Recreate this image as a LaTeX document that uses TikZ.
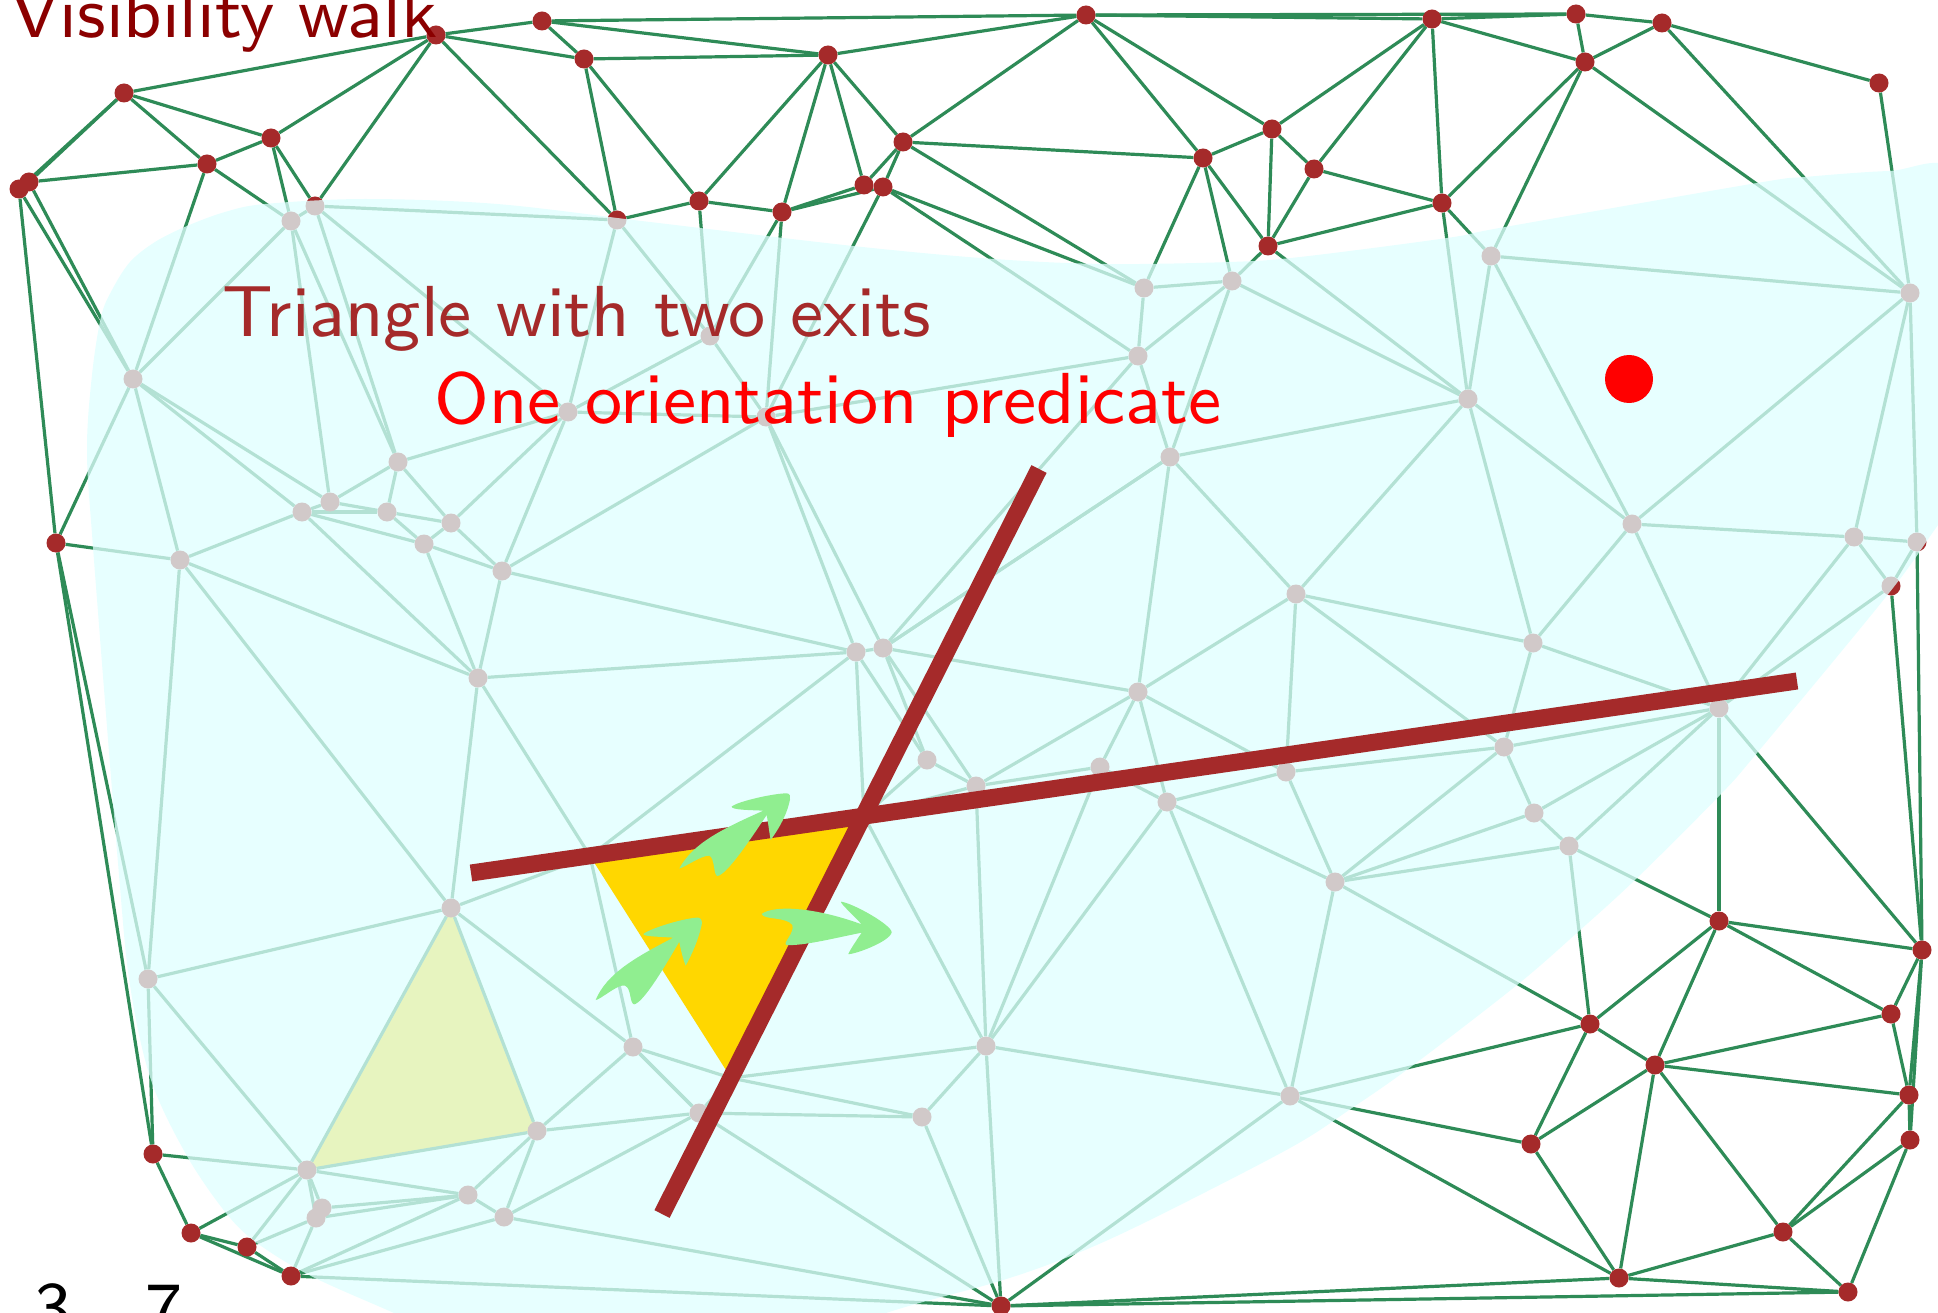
\documentclass[tikz,border=0pt]{standalone}
\usepackage{fontspec}
\pgfdeclarelayer{bg}
\pgfsetlayers{bg,main}
\definecolor{meshgreen}{HTML}{2E8B57}
\definecolor{vertexbrown}{HTML}{A52A2A}
\definecolor{veilcyan}{HTML}{E0FFFF}
\definecolor{triangold}{HTML}{FFD700}
\definecolor{arrowgreen}{HTML}{90EE90}
\definecolor{titlered}{HTML}{8B0000}
\newcommand{\bigtxt}[1]{\scalebox{8.03}{\fontsize{9}{11}\selectfont\sffamily #1}}
\tikzset{
  vertexdot/.style={circle,fill=vertexbrown,draw=none,inner sep=0pt,minimum size=19pt},
  meshedge/.style={draw=meshgreen,line width=3.2pt},
  walkline/.style={draw=vertexbrown,line width=17pt},
  cyanveil/.style={fill=veilcyan,fill opacity=0.75},
  bigtext/.style={anchor=base west,inner sep=0pt},
  fancyarrow/.style={fill=arrowgreen,draw=none}
}
\begin{document}
\begin{tikzpicture}[x=1pt,y=-1pt]
\clip (0,0) rectangle (1938,1313);
% vertices
\foreach \n/\x/\y in {
a1/436/35,a2/542/21,a3/584/59,a4/124/93,a5/271/138,a6/207/164,a7/29/182,a8/19/189,a9/828/55,a10/1086/15,
a11/903/142,a12/864/185,a13/883/187,a14/699/201,a15/782/212,a16/1203/158,a17/1272/129,a18/1268/246,
a19/1432/19,a20/1576/14,a21/1662/23,a22/1585/62,a23/1879/83,a24/1314/169,a25/1442/203,
b1/315/206,b2/291/221,b3/617/220,b4/133/379,b5/568/412,b6/1144/288,b7/1232/281,b8/1138/356,b9/710/336,b10/766/417,
b11/1170/457,b12/1491/256,b13/1910/293,b14/1468/399,b15/56/543,b16/180/560,b17/302/512,b18/330/502,b19/387/512,b20/398/462,
b21/451/523,b22/424/544,b23/502/571,b24/478/678,b25/856/652,b26/883/648,b27/1138/692,b28/927/760,b29/976/786,b30/1100/767,
b31/1167/802,b32/1286/772,b33/1296/594,b34/1632/524,b35/1854/537,b36/1917/542,b37/1891/586,b38/1533/643,b39/1719/708,b40/1504/747,
b41/1534/813,b42/1569/846,b43/1335/882,b44/148/979,b45/451/908,b46/307/1170,b47/537/1131,b48/633/1047,b49/468/1195,b50/504/1217,
b51/322/1208,b52/316/1218,b53/699/1113,b54/986/1046,b55/922/1117,b56/1290/1096,
c1/153/1154,c2/191/1233,c3/247/1247,c4/291/1276,c5/1001/1306,c6/1719/921,c7/1922/950,c8/1590/1024,c9/1891/1014,c10/1655/1065,
c11/1909/1095,c12/1531/1144,c13/1910/1140,c14/1783/1232,c15/1619/1278,c16/1848/1292}
  {\node[vertexdot] (\n) at (\x,\y) {};}
\coordinate (h1) at (590,856);
\coordinate (h2) at (864,816);
\coordinate (h3) at (731,1078);
% mesh below the veil
\begin{pgfonlayer}{bg}
\fill[white] (0,0) rectangle (1938,1313);
\fill[triangold] (b45.center) -- (b46.center) -- (b47.center) -- cycle;
\foreach \p/\q in {
a4/a1,a4/a7,a4/a8,a4/a6,a4/a5,a7/a6,a7/a8,a5/a6,a5/a1,a1/a2,a1/a3,a2/a3,a1/b1,a1/b3,a5/b1,a5/b2,a6/b2,a6/b4,b1/b2,b1/b3,b2/b4,a7/b4,a8/b4,a8/b15,
a3/b3,a3/a9,a3/a14,a2/a9,a2/a10,a9/a10,a9/a14,a9/a15,a9/a12,a9/a11,a10/a11,a10/a16,a10/a17,a11/a16,a11/a12,a11/a13,a11/b6,a13/b6,a13/b8,a12/a15,a13/a15,a14/a15,b3/a14,
a14/b9,a15/b9,a15/b10,a13/b10,a16/b6,a16/b7,a16/a18,a16/a17,a17/a18,a17/a24,a18/a24,a18/a25,a17/a19,a24/a19,a24/a25,a19/a25,a19/a22,a19/a20,a10/a19,a10/a20,a20/a21,a20/a22,a21/a22,a21/a23,
a22/a25,a22/b12,a22/b13,a21/b13,a23/b13,a25/b12,a25/b14,b12/b14,b12/b13,b12/b34,a18/b7,a18/b14,b7/b6,b7/b8,b7/b14,b7/b11,b6/b8,b8/b10,b8/b11,b8/b26,b11/b26,b11/b14,b11/b27,b11/b33,
b14/b33,b14/b38,b14/b34,b13/b34,b13/b35,b13/b36,b35/b36,b34/b35,b35/b37,b36/b37,b37/b39,b35/b39,b34/b39,b34/b38,b38/b33,b38/b39,b38/b40,b33/b40,b33/b32,b33/b27,b40/b39,b40/b32,
b39/b41,b39/b42,b39/c6,b39/c7,b40/b43,b40/b41,b41/b42,b41/b43,b42/b43,b42/c8,b42/c6,b32/b43,b43/b56,b43/c8,b31/b43,b31/b32,b31/b27,b31/b30,b30/b27,b30/b29,b29/b27,b29/b28,b29/b26,b28/b26,b28/b25,
b25/b26,b25/h1,b25/h2,b28/h2,b29/h2,h2/b54,b24/h1,b45/h1,h1/b48,b48/h3,h3/b54,h3/b55,h3/b53,
b47/b53,b50/b53,b48/b53,b53/b55,b53/c5,b55/b54,b55/c5,b54/b56,b54/c5,b56/c5,b54/b29,b54/b30,b54/b31,b56/b31,b56/c8,b56/c12,b56/c15,
c6/c7,c6/c8,c6/c10,c6/c9,c7/c9,c7/c11,c7/c13,c8/c10,c8/c12,c10/c9,c10/c11,c10/c12,c10/c15,c10/c14,c9/c11,c11/c14,c11/c13,c13/c14,c13/c16,c14/c15,c14/c16,c12/c15,c15/c16,c15/c5,c16/c5,b36/c7,b37/c7,
b15/c1,b15/b44,b44/c1,b44/b46,b44/b16,b44/b45,b46/c1,b46/c2,b46/c3,b46/b51,b46/b52,b46/b47,b46/b45,b46/b49,b47/b45,b47/b48,b47/b49,b47/b50,b45/b48,b45/b24,b16/b45,
b49/b51,b49/b52,b49/b50,b49/c4,b50/c4,b50/c5,b52/c3,b52/c4,c1/c2,c2/c3,c2/c4,c3/c4,c4/c5,b51/b52,
b4/b15,b4/b16,b4/b17,b4/b18,b2/b18,b2/b20,b1/b20,b1/b5,b3/b5,b3/b9,b9/b10,b9/b5,b5/b10,b5/b20,b5/b21,b5/b23,b20/b18,b20/b19,b20/b21,b18/b17,b18/b19,b17/b19,b17/b16,b17/b22,b17/b24,b19/b21,b19/b22,b21/b22,b21/b23,b22/b23,b22/b24,b23/b24,b23/b25,b23/b10,b24/b25,b16/b24,b16/b15,
b10/b25,b10/b26,b26/b27,b26/b11,b27/b32,b53/b48}
  {\draw[meshedge] (\p) -- (\q);}
\end{pgfonlayer}
% veil
\path[cyanveil] plot[smooth cycle,tension=.55] coordinates {
(87,450)(92,375)(101,317)(112,290)(130,262)(155,242)(187,226)(225,212)(265,204)(365,199)(497,204)(650,222)(853,246)(994,259)(1106,264)(1230,262)
(1300,257)(1447,238)(1505,227)(1757,183)(1805,177)(1889,171)(1960,172)(2030,300)(2000,440)(1938,525)(1889,593)(1757,753)(1720,795)(1637,878)
(1579,931)(1517,985)(1412,1066)(1352,1108)(1290,1148)(1150,1220)(1073,1255)(1000,1281)(886,1313)(760,1360)(500,1360)(394,1313)(311,1276)(257,1243)(226,1213)(187,1156)(151,1080)(130,985)(118,863)(93,547)};
% walk triangle and lines
\fill[triangold] (h1) -- (h2) -- (h3) -- cycle;
\coordinate (l1s) at (471,873);
\coordinate (l1e) at (1797,681);
\coordinate (l2s) at (1039,469);
\coordinate (l2e) at (662,1214);
\draw[walkline] (l1s) -- (l1e);
\draw[walkline] (l2s) -- (l2e);
% arrows
\begin{scope}[shift={(560,760)},scale=1/3]
\fill[fancyarrow] (358,325) .. controls (400,250) and (480,210) .. (610,152)
  .. controls (570,150) and (515,150) .. (515,140)
  .. controls (530,125) and (640,100) .. (680,100)
  .. controls (690,100) and (692,110) .. (690,118)
  .. controls (680,170) and (650,215) .. (632,240)
  .. controls (628,220) and (625,190) .. (620,165)
  .. controls (570,240) and (500,345) .. (472,348)
  .. controls (460,345) and (465,295) .. (448,287)
  .. controls (425,285) and (370,325) .. (358,325) -- cycle;
\fill[fancyarrow] (107,720) .. controls (140,640) and (230,590) .. (340,533)
  .. controls (300,530) and (250,530) .. (250,522)
  .. controls (270,505) and (380,472) .. (415,473)
  .. controls (425,475) and (427,485) .. (425,495)
  .. controls (415,540) and (395,585) .. (377,617)
  .. controls (370,600) and (362,570) .. (358,545)
  .. controls (320,610) and (250,730) .. (222,733)
  .. controls (208,730) and (215,685) .. (195,677)
  .. controls (175,670) and (120,720) .. (107,720) -- cycle;
\fill[fancyarrow] (605,462) .. controls (640,435) and (760,440) .. (905,493)
  .. controls (880,465) and (840,430) .. (843,425)
  .. controls (880,430) and (995,495) .. (995,517)
  .. controls (990,545) and (880,585) .. (865,582)
  .. controls (870,570) and (890,540) .. (905,518)
  .. controls (820,535) and (730,558) .. (680,555)
  .. controls (665,550) and (705,520) .. (697,495)
  .. controls (680,470) and (610,480) .. (605,462) -- cycle;
\end{scope}
\node[circle,fill=red,inner sep=0pt,minimum size=48pt] (target) at (1629,379) {};
% texts
\node[bigtext,text=titlered] (title) at (10,38) {\bigtxt{Visibility walk}};
\node[bigtext,text=vertexbrown] (tri) at (222,337) {\bigtxt{Triangle with two exits}};
\node[bigtext,text=red] (pred) at (434,424) {\bigtxt{One orientation predicate}};
\node[bigtext,text=black] (nthree) at (34,1332) {\bigtxt{3}};
\node[bigtext,text=black] (nseven) at (145,1332) {\bigtxt{7}};
\end{tikzpicture}
\end{document}
